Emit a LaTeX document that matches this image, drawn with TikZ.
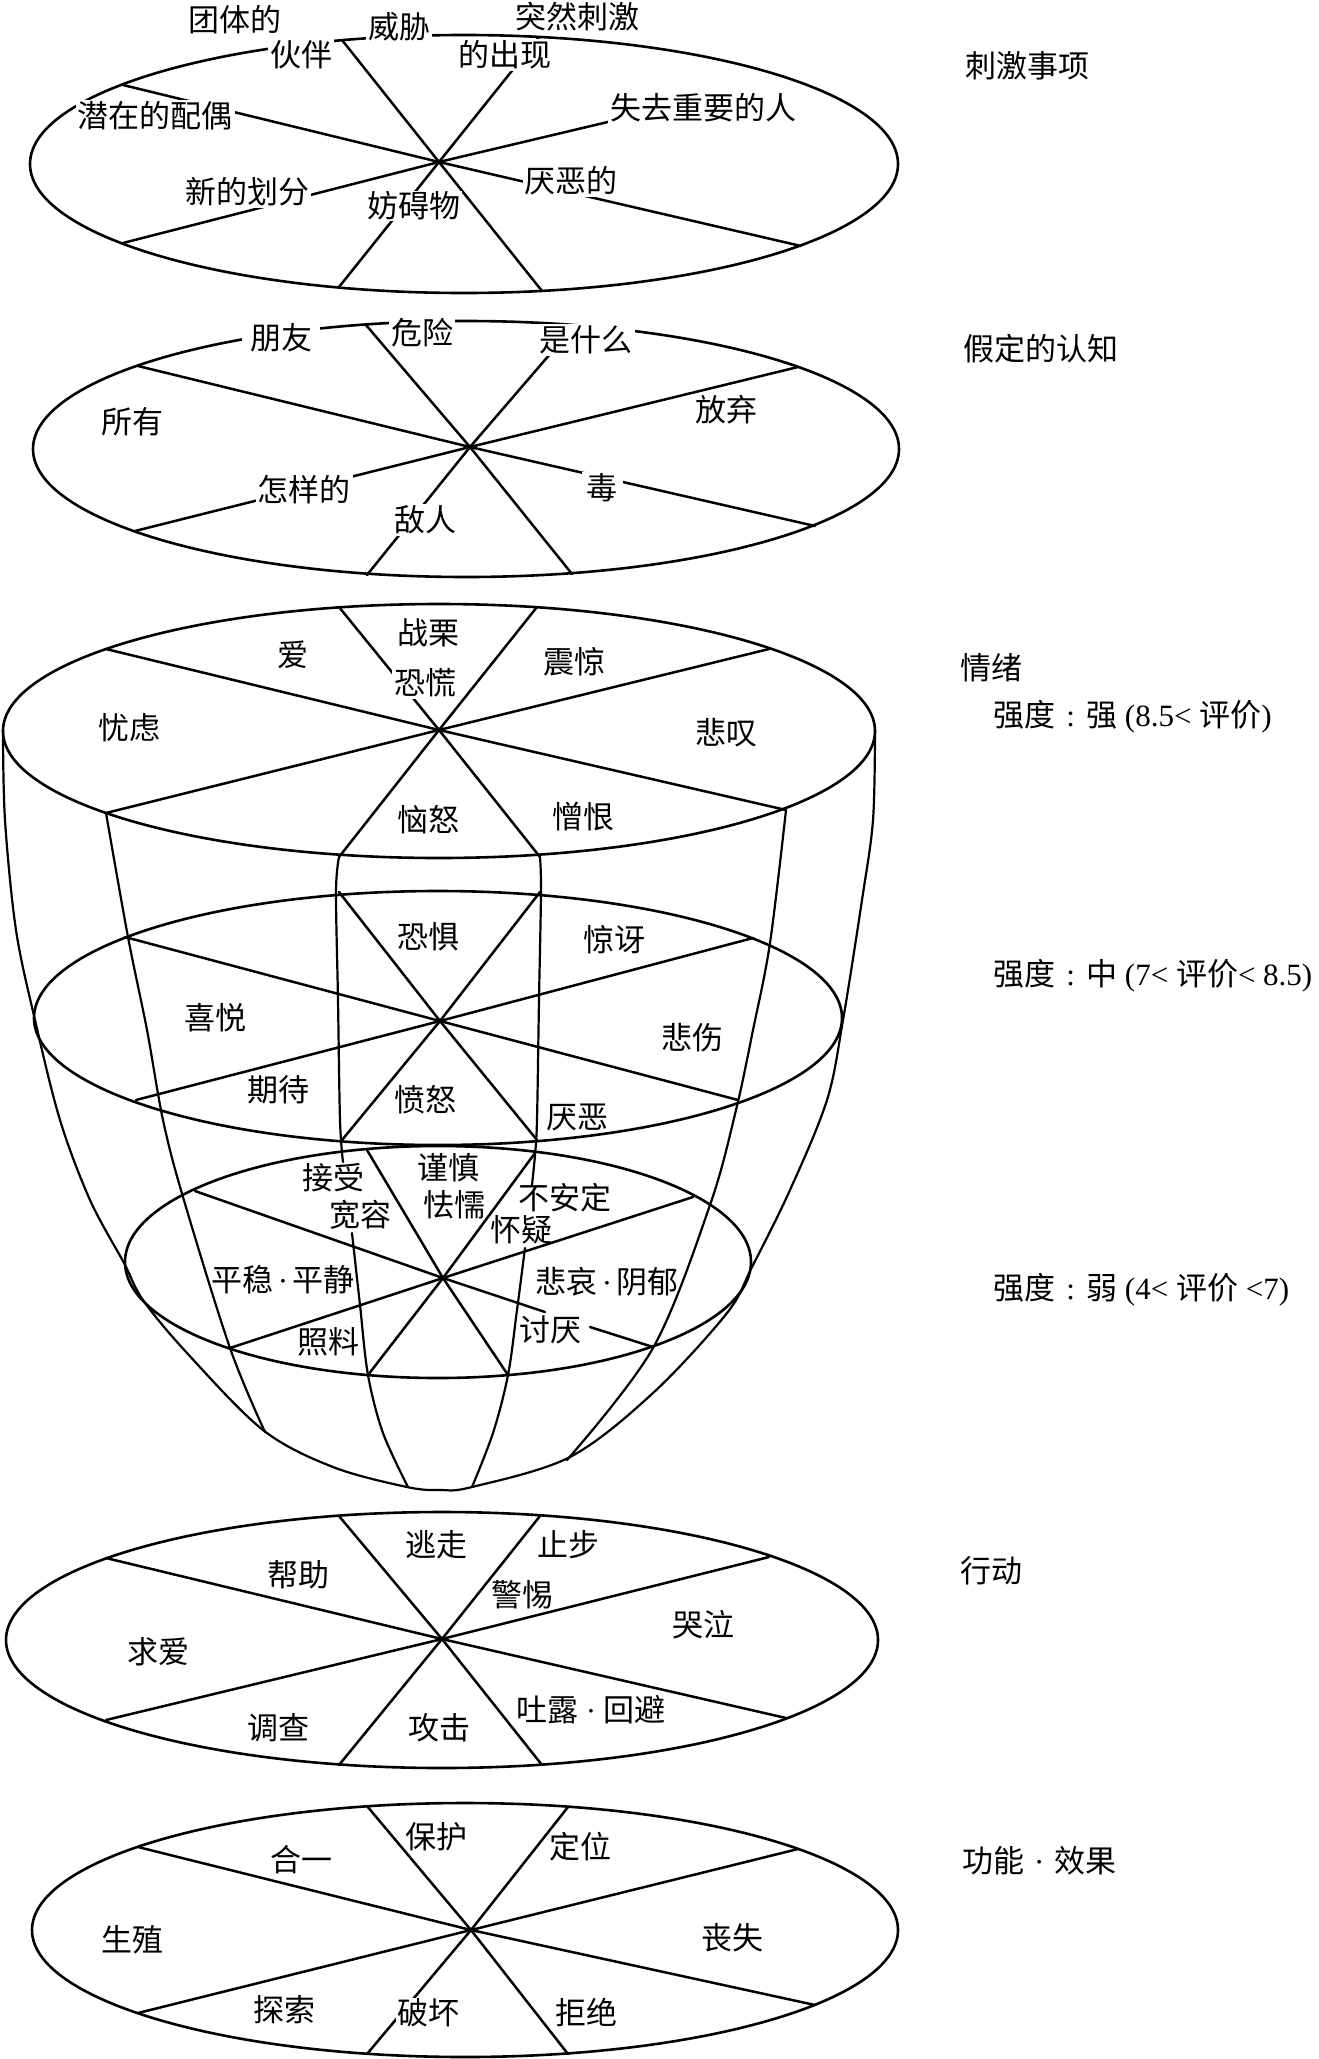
\documentclass[tikz,border=0pt]{standalone}
\usepackage{fontspec}
\newfontfamily\cjk{Noto Sans CJK SC}
\newfontfamily\latf{Liberation Serif}
\newcommand\lt[1]{{\latf #1}}
\newcommand\cdotsep[1]{{\latf\hspace{#1}·\hspace{#1}}}
\newcommand\colonbox{\makebox[31pt]{\latf :}}
\tikzset{
  lbl/.style={font=\cjk\fontsize{31}{36}\selectfont, inner sep=0pt},
  msk/.style={lbl, fill=white, inner sep=2pt},
  side/.style={lbl, anchor=west},
  ring/.style={line width=2.6pt},
  spoke/.style={line width=2.5pt},
  merid/.style={line width=2.2pt},
}
\begin{document}
\begin{tikzpicture}[x=1pt,y=-1pt,line cap=round,line join=round]
\useasboundingbox (0,0) rectangle (1318,2059);

% ---------- layer 1: stimulus ----------
\coordinate (c1) at (439,162);
\draw[ring] (464,164) ellipse [x radius=434pt, y radius=129pt];
\draw[spoke] (342,40) -- (c1) -- (542,291);
\draw[spoke] (539,37) -- (c1) -- (339,287);
\draw[spoke] (123,85) -- (c1) -- (801,246);
\draw[spoke] (123,243) -- (c1) -- (650,112);

% ---------- layer 2: cognition ----------
\coordinate (c2) at (470,447);
\draw[ring] (466,449) ellipse [x radius=433pt, y radius=128pt];
\draw[spoke] (366,325) -- (c2) -- (572,574);
\draw[spoke] (575,325) -- (c2) -- (367,575);
\draw[spoke] (138,366) -- (c2) -- (815,526);
\draw[spoke] (798,367) -- (c2) -- (135,531);

% ---------- bowl meridians ----------
\draw[merid] plot[smooth, tension=0.55] coordinates {(3,730) (5,820) (16,930) (35,1020) (60,1120) (90,1200) (124,1263) (143,1300) (187,1353) (263,1430) (333,1467) (407,1487) (440,1490) (472,1487) (570,1457) (653,1393) (727,1313) (752,1267) (790,1190) (827,1100) (843,1020) (862,900) (873,820) (875,730)};
\draw[merid] plot[smooth, tension=0.55] coordinates {(106,813) (128,937) (147,1030) (163,1120) (183,1197) (230,1348) (265,1432)};
\draw[merid] plot[smooth, tension=0.55] coordinates {(339,857) (336,892) (338,1000) (340,1120) (343,1162)};
\draw[merid] plot[smooth, tension=0.55] coordinates {(352,1233) (360,1305) (368,1375) (383,1433) (408,1487)};
\draw[merid] plot[smooth, tension=0.55] coordinates {(540,857) (541,892) (539,1000) (537,1120) (535,1155) (532,1185)};
\draw[merid] plot[smooth, tension=0.55] coordinates {(525,1248) (517,1310) (508,1375) (493,1433) (472,1487)};
\draw[merid] plot[smooth, tension=0.55] coordinates {(786,810) (770,943) (753,1030) (736,1110) (710,1205) (653,1348) (567,1460)};

% ---------- layer 3: strong ----------
\coordinate (c3) at (439,730);
\draw[ring] (439,731) ellipse [x radius=436pt, y radius=127pt];
\draw[spoke] (339,607) -- (c3) -- (540,857);
\draw[spoke] (537,607) -- (c3) -- (339,857);
\draw[spoke] (106,649) -- (c3) -- (786,810);
\draw[spoke] (769,649) -- (c3) -- (106,813);

% ---------- layer 4: medium ----------
\coordinate (c4) at (440,1021);
\draw[ring] (438,1018) ellipse [x radius=404pt, y radius=127pt];
\draw[spoke] (339,892) -- (c4) -- (537,1140);
\draw[spoke] (540,892) -- (c4) -- (342,1140);
\draw[spoke] (125,937) -- (c4) -- (738,1100);
\draw[spoke] (753,938) -- (c4) -- (136,1100);

% ---------- layer 5: weak ----------
\coordinate (c5) at (443,1278);
\draw[ring] (438,1262) ellipse [x radius=313pt, y radius=116pt];
\draw[spoke] (367,1150) -- (c5) -- (508,1375);
\draw[spoke] (535,1153) -- (c5) -- (368,1375);
\draw[spoke] (195,1191) -- (c5) -- (545,1312);
\draw[spoke] (590,1327) -- (653,1347);
\draw[spoke] (693,1197) -- (c5) -- (230,1348);

% ---------- action ----------
\coordinate (c6) at (442,1639);
\draw[ring] (442,1640) ellipse [x radius=436pt, y radius=128pt];
\draw[spoke] (339,1516) -- (c6) -- (542,1765);
\draw[spoke] (540,1516) -- (c6) -- (339,1765);
\draw[spoke] (106,1558) -- (c6) -- (786,1718);
\draw[spoke] (769,1557) -- (c6) -- (106,1720);

% ---------- function ----------
\coordinate (c7) at (471,1930);
\draw[ring] (465,1930) ellipse [x radius=433pt, y radius=127pt];
\draw[spoke] (367,1806) -- (c7) -- (568,2054);
\draw[spoke] (568,1807) -- (c7) -- (367,2054);
\draw[spoke] (138,1847) -- (c7) -- (815,2005);
\draw[spoke] (798,1849) -- (c7) -- (138,2013);

% ---------- labels layer 1 ----------
\node[lbl] (s1) at (235,20) {团体的};
\node[msk] (s2) at (301,55) {伙伴};
\node[msk] (s3) at (399,27) {威胁};
\node[lbl] (s4) at (577,17) {突然刺激};
\node[msk] (s5) at (505,55) {的出现};
\node[msk] (s6) at (155,116) {潜在的配偶};
\node[msk] (s7) at (703,108) {失去重要的人};
\node[msk] (s8) at (247,192) {新的划分};
\node[msk, inner sep=1pt] (s9) at (414,206) {妨碍物};
\node[msk] (s10) at (571,181) {厌恶的};

% ---------- labels layer 2 ----------
\node[msk, inner xsep=8pt] (k1) at (281,338) {朋友};
\node[msk] (k2) at (422,333) {危险};
\node[msk] (k3) at (586,340) {是什么};
\node[lbl] (k4) at (132,422) {所有};
\node[lbl] (k5) at (726,410) {放弃};
\node[msk] (k6) at (304,490) {怎样的};
\node[msk, inner xsep=5pt] (k7) at (602,488) {毒};
\node[msk] (k8) at (425,520) {敌人};

% ---------- labels strong ----------
\node[lbl] (e1) at (428,633) {战栗};
\node[msk] (e2) at (425,683) {恐慌};
\node[lbl] (e3) at (293,655) {爱};
\node[lbl] (e4) at (574,662) {震惊};
\node[lbl] (e5) at (129,728) {忧虑};
\node[lbl] (e6) at (726,733) {悲叹};
\node[lbl] (e7) at (428,820) {恼怒};
\node[lbl] (e8) at (583,817) {憎恨};

% ---------- labels medium ----------
\node[lbl] (m1) at (428,937) {恐惧};
\node[lbl] (m2) at (614,940) {惊讶};
\node[lbl] (m3) at (215,1018) {喜悦};
\node[lbl] (m4) at (692,1038) {悲伤};
\node[lbl] (m5) at (278,1090) {期待};
\node[lbl] (m6) at (425,1100) {愤怒};
\node[lbl] (m7) at (577,1117) {厌恶};

% ---------- labels weak ----------
\node[lbl] (w1) at (333,1178) {接受};
\node[lbl] (w2) at (360,1215) {宽容};
\node[lbl] (w3) at (448,1168) {谨慎};
\node[lbl] (w4) at (454,1205) {怯懦};
\node[lbl] (w5) at (565,1198) {不安定};
\node[lbl] (w6) at (521,1230) {怀疑};
\node[lbl] (w7) at (283,1280) {平稳\cdotsep{4pt}平静};
\node[lbl] (w8) at (607,1282) {悲哀\cdotsep{4pt}阴郁};
\node[lbl] (w9) at (328,1342) {照料};
\node[lbl] (w10) at (550,1330) {讨厌};

% ---------- labels action ----------
\node[lbl] (a1) at (436,1545) {逃走};
\node[lbl] (a2) at (568,1545) {止步};
\node[lbl] (a3) at (298,1575) {帮助};
\node[lbl] (a4) at (522,1595) {警惕};
\node[lbl] (a5) at (703,1625) {哭泣};
\node[lbl] (a6) at (158,1652) {求爱};
\node[lbl] (a7) at (278,1728) {调查};
\node[lbl] (a8) at (439,1728) {攻击};
\node[lbl] (a9) at (591,1710) {吐露\cdotsep{7pt}回避};

% ---------- labels function ----------
\node[lbl] (f1) at (436,1837) {保护};
\node[lbl] (f2) at (301,1860) {合一};
\node[lbl] (f3) at (580,1847) {定位};
\node[lbl] (f4) at (132,1940) {生殖};
\node[lbl] (f5) at (732,1938) {丧失};
\node[lbl] (f6) at (284,2010) {探索};
\node[msk, inner sep=1pt] (f7) at (428,2013) {破坏};
\node[lbl] (f8) at (586,2012) {拒绝};

% ---------- right column ----------
\node[side] (r1) at (965,66) {刺激事项};
\node[side] (r2) at (963,349) {假定的认知};
\node[side] (r3) at (960,668) {情绪};
\node[side] (r4) at (993,717) {强度\colonbox 强\lt{ (8.5< }评价\lt{)}};
\node[side] (r5) at (993,976) {强度\colonbox 中\lt{ (7< }评价\lt{< 8.5)}};
\node[side] (r6) at (993,1290) {强度\colonbox 弱\lt{ (4< }评价\lt{ <7)}};
\node[side] (r7) at (960,1571) {行动};
\node[side] (r8) at (962,1861) {功能\cdotsep{10pt}效果};
\end{tikzpicture}
\end{document}
